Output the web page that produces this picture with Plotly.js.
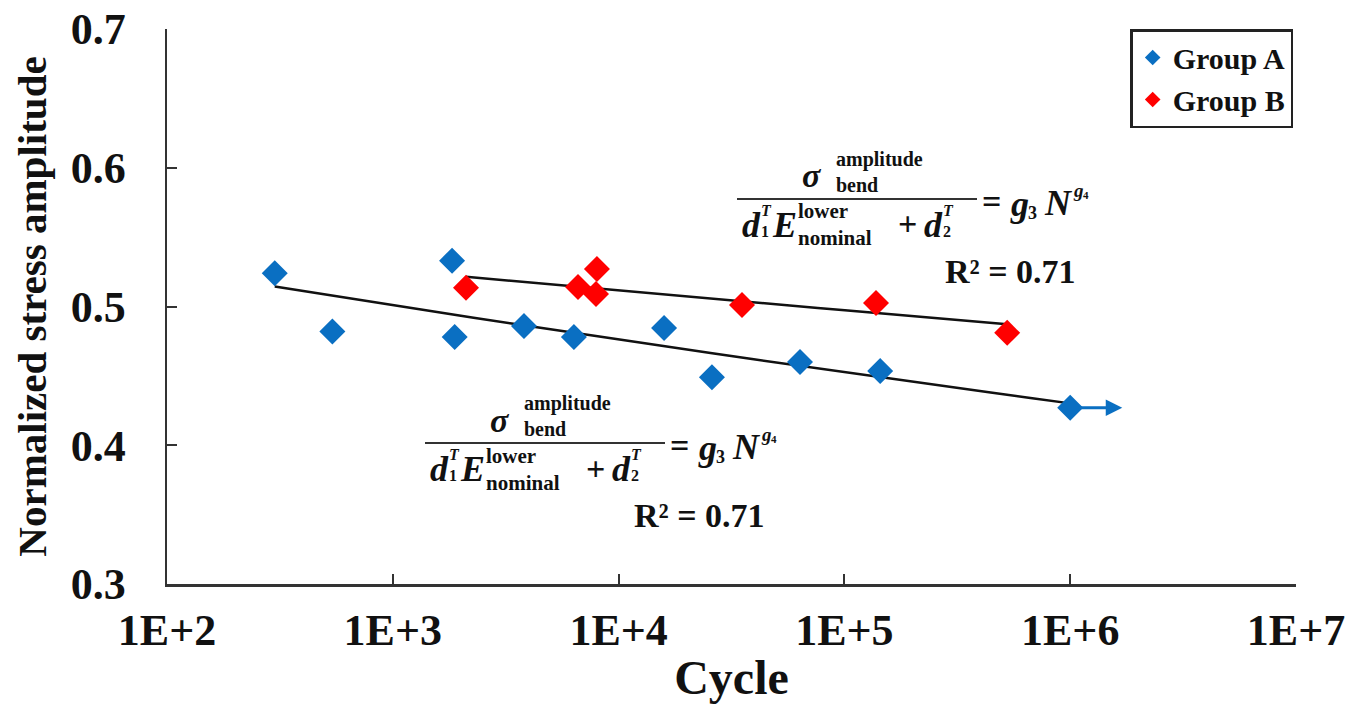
<!DOCTYPE html>
<html>
<head>
<meta charset="utf-8">
<script src="https://cdn.plot.ly/plotly-3.0.1.min.js"></script>
<style>html,body{margin:0;padding:0;background:#fff;}#chart{width:1363px;height:707px;}</style>
</head>
<body>
<div id="chart"></div>
<script>
// ---- data ----
const cyclesA = [300, 540, 1830, 1880, 3810, 6340, 15900, 25900, 63600, 144000, 1000000];
const stressA = [0.524, 0.482, 0.533, 0.478, 0.486, 0.478, 0.4845, 0.449, 0.460, 0.4535, 0.427];
const cyclesB = [2110, 6610, 8020, 7940, 35200, 138000, 526000];
const stressB = [0.5135, 0.514, 0.527, 0.509, 0.501, 0.5025, 0.481];
const runoutEnd = 1700000;          // arrow tip for the run-out specimen of Group A
const xTickVals = [1e2, 1e3, 1e4, 1e5, 1e6, 1e7];
const xTickText = ['1E+2', '1E+3', '1E+4', '1E+5', '1E+6', '1E+7'];
const yTickVals = [0.3, 0.4, 0.5, 0.6, 0.7];
const r2A = '0.71', r2B = '0.71';

const FONT = 'Liberation Serif';
const BLUE = '#0A6FC2', RED = '#FF0000';

// power-law fit y = g3 * N^g4 (least squares in log-log)
function powerFit(xs, ys) {
  const u = xs.map(Math.log10), v = ys.map(Math.log10);
  const n = u.length;
  const mu = u.reduce((a, b) => a + b, 0) / n, mv = v.reduce((a, b) => a + b, 0) / n;
  let sxy = 0, sxx = 0;
  for (let i = 0; i < n; i++) { sxy += (u[i] - mu) * (v[i] - mv); sxx += (u[i] - mu) ** 2; }
  const b = sxy / sxx, a = mv - b * mu;
  const lo = Math.min(...u), hi = Math.max(...u);
  const fx = [], fy = [];
  for (let k = 0; k <= 20; k++) {
    const uu = lo + (hi - lo) * k / 20;
    fx.push(Math.pow(10, uu)); fy.push(Math.pow(10, a + b * uu));
  }
  return {x: fx, y: fy};
}
const fitA = powerFit(cyclesA, stressA);
const fitB = powerFit(cyclesB, stressB);

const traces = [
  {x: fitA.x, y: fitA.y, mode: 'lines', line: {color: '#111', width: 2.5}, showlegend: false, hoverinfo: 'skip'},
  {x: fitB.x, y: fitB.y, mode: 'lines', line: {color: '#111', width: 2.5}, showlegend: false, hoverinfo: 'skip'},
  {x: cyclesA, y: stressA, mode: 'markers', name: 'Group A',
   marker: {symbol: 'diamond', size: 20, color: BLUE}},
  {x: cyclesB, y: stressB, mode: 'markers', name: 'Group B',
   marker: {symbol: 'diamond', size: 20, color: RED}}
];

// plot-area geometry (pixels) for placing the equation text
const L = 167, R = 1296, T = 29, B = 584;
const px = x => (x - L) / (R - L);
const py = y => (B - y) / (B - T);

function t(x, y, text, size, italic, anchor) {
  return {xref: 'paper', yref: 'paper', x: px(x), y: py(y), text: text, showarrow: false,
          xanchor: anchor || 'left', yanchor: 'middle', align: 'left', borderpad: 0,
          font: {family: FONT, size: size, color: '#111', weight: 'bold', style: italic ? 'italic' : 'normal'}};
}

function equation(bx, by, r2) {
  const a = [];
  a.push(t(bx + 64, by - 23, 'σ', 34, true));
  a.push(t(bx + 98, by - 27, 'amplitude<br>bend', 20, false));
  a.push(t(bx + 4, by + 26, 'd', 36, true));
  a.push(t(bx + 23, by + 22, '<i>T</i><br>1', 16, false));
  a.push(t(bx + 34, by + 26, 'E', 36, true));
  a.push(t(bx + 60, by + 26, 'lower<br>nominal', 21, false));
  a.push(t(bx + 170, by + 25, '+', 34, false, 'center'));
  a.push(t(bx + 186, by + 26, 'd', 36, true));
  a.push(t(bx + 205, by + 22, '<i>T</i><br>2', 16, false));
  a.push(t(bx + 254, by + 2, '=', 34, false, 'center'));
  a.push(t(bx + 272, by + 5, 'g', 36, true));
  a.push(t(bx + 290, by + 14, '3', 18, false));
  a.push(t(bx + 306, by + 4, 'N', 36, true));
  a.push(t(bx + 335, by - 9, 'g', 19, true));
  a.push(t(bx + 345, by - 4, '4', 11, false));
  a.push(t(bx + 274, by + 72, 'R² = ' + r2, 34, false, 'center'));
  return a;
}
function bar(bx, by) {
  return {type: 'line', xref: 'paper', yref: 'paper', x0: px(bx), x1: px(bx + 240), y0: py(by), y1: py(by),
          line: {color: '#333', width: 2}};
}

const annotations = [].concat(
  equation(737, 199, r2B),
  equation(425, 443, r2A),
  [{x: Math.log10(runoutEnd), y: stressA[stressA.length - 1], xref: 'x', yref: 'y',
    ax: Math.log10(cyclesA[cyclesA.length - 1]) + 0.03, ay: stressA[stressA.length - 1], axref: 'x', ayref: 'y',
    showarrow: true, arrowhead: 2, arrowsize: 1.1, arrowwidth: 3, arrowcolor: BLUE, text: ''}]
);

const layout = {
  width: 1363, height: 707,
  margin: {l: L, r: 1363 - R, t: T, b: 707 - B},
  paper_bgcolor: '#fff', plot_bgcolor: '#fff',
  font: {family: FONT, color: '#111'},
  xaxis: {type: 'log', range: [2, 7], tickvals: xTickVals, ticktext: xTickText,
          ticks: 'inside', ticklen: 10, tickwidth: 2, tickcolor: '#333',
          showline: true, linecolor: '#333', linewidth: 2.5, showgrid: false, zeroline: false,
          tickfont: {family: FONT, size: 44, weight: 'bold', color: '#111'}, ticklabelstandoff: 6,
          title: {text: 'Cycle', font: {family: FONT, size: 48, weight: 'bold', color: '#111'}, standoff: 6}},
  yaxis: {range: [0.3, 0.7], tickvals: yTickVals, tickformat: '.1f',
          ticks: 'inside', ticklen: 10, tickwidth: 2, tickcolor: '#333',
          showline: true, linecolor: '#333', linewidth: 2.5, showgrid: false, zeroline: false,
          tickfont: {family: FONT, size: 44, weight: 'bold', color: '#111'}, ticklabelstandoff: 30,
          title: {text: 'Normalized stress amplitude', font: {family: FONT, size: 41, weight: 'bold', color: '#111'}, standoff: 12}},
  legend: {x: 0.9975, y: 1.0, xanchor: 'right', yanchor: 'top', bgcolor: '#fff',
           bordercolor: '#222', borderwidth: 2.5, itemsizing: 'constant',
           font: {family: FONT, size: 30, weight: 'bold', color: '#111'},
           itemwidth: 30, tracegroupgap: 0},
  shapes: [bar(737, 199), bar(425, 443)],
  annotations: annotations,
  showlegend: true
};

Plotly.newPlot('chart', traces, layout, {displayModeBar: false, staticPlot: true});
</script>
</body>
</html>
